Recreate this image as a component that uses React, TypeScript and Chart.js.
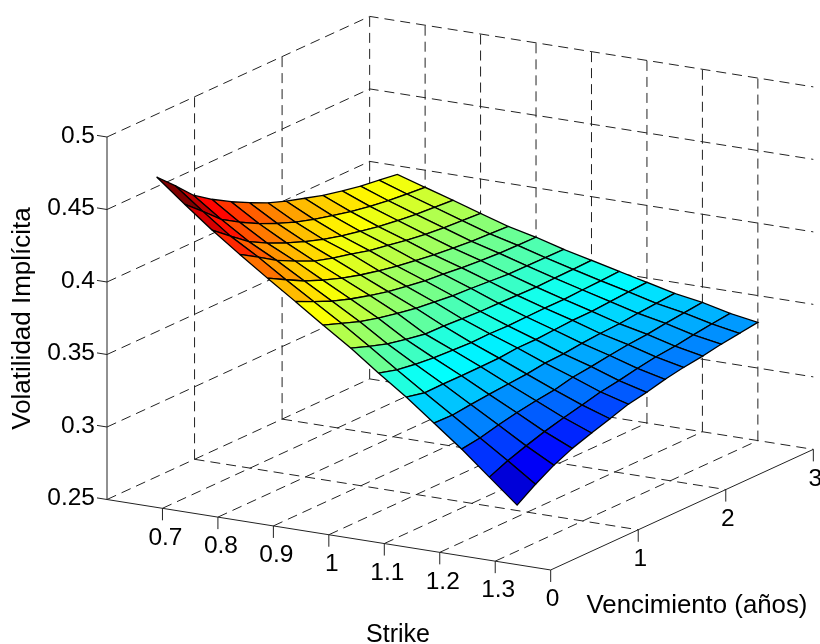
import React, { useEffect, useRef } from "react";
import { Chart, registerables } from "chart.js";

Chart.register(...registerables);

const strikes = [0.65, 0.7, 0.75, 0.8, 0.85, 0.9, 0.95, 1.0, 1.05, 1.1, 1.15, 1.2, 1.25, 1.3];
const maturities = [0.25, 0.46, 0.67, 0.88, 1.1, 1.31, 1.52, 1.73, 1.94, 2.15, 2.37, 2.58, 2.79, 3.0];

const volT00 = [.4685, .4529, .4380, .4242, .4109, .3979, .3846, .3718, .3576, .3441, .3292, .3143, .2980, .2817];
const volT01 = [.4568, .4421, .4280, .4166, .4040, .3920, .3800, .3672, .3540, .3412, .3288, .3161, .3035, .2903];
const volT02 = [.4443, .4307, .4184, .4085, .3973, .3864, .3753, .3630, .3520, .3414, .3303, .3193, .3079, .2976];
const volT03 = [.4357, .4229, .4115, .4022, .3921, .3821, .3719, .3603, .3506, .3413, .3315, .3219, .3119, .3034];
const volT04 = [.4279, .4159, .4056, .3961, .3873, .3784, .3691, .3579, .3498, .3414, .3326, .3241, .3154, .3079];
const volT05 = [.4214, .4102, .4006, .3923, .3837, .3753, .3668, .3576, .3492, .3416, .3336, .3257, .3183, .3119];
const volT06 = [.4155, .4052, .3963, .3893, .3808, .3731, .3653, .3568, .3495, .3427, .3353, .3286, .3215, .3161];
const volT07 = [.4108, .4013, .3929, .3858, .3781, .3711, .3638, .3560, .3491, .3427, .3359, .3301, .3235, .3185];
const volT08 = [.4070, .3981, .3903, .3836, .3762, .3698, .3630, .3558, .3494, .3435, .3373, .3320, .3261, .3216];
const volT09 = [.4031, .3950, .3877, .3812, .3743, .3684, .3620, .3555, .3497, .3443, .3383, .3336, .3282, .3240];
const volT10 = [.4002, .3925, .3858, .3793, .3728, .3672, .3610, .3551, .3496, .3444, .3389, .3346, .3295, .3257];
const volT11 = [.3976, .3906, .3842, .3780, .3717, .3665, .3608, .3554, .3503, .3453, .3403, .3364, .3315, .3281];
const volT12 = [.3959, .3894, .3833, .3771, .3710, .3662, .3607, .3557, .3508, .3462, .3413, .3378, .3332, .3298];
const volT13 = [.3941, .3882, .3823, .3763, .3704, .3659, .3606, .3561, .3515, .3470, .3424, .3392, .3347, .3315];
const surface = [volT00, volT01, volT02, volT03, volT04, volT05, volT06, volT07, volT08, volT09, volT10, volT11, volT12, volT13];

const strikeTicks = [0.7, 0.8, 0.9, 1, 1.1, 1.2, 1.3];
const maturityTicks = [0, 1, 2, 3];
const volTicks = [0.25, 0.3, 0.35, 0.4, 0.45, 0.5];
const strikeLabels = ["0.7", "0.8", "0.9", "1", "1.1", "1.2", "1.3"];
const maturityLabels = ["0", "1", "2", "3"];
const volLabels = ["0.25", "0.3", "0.35", "0.4", "0.45", "0.5"];

const S_MIN = 0.6, S_MAX = 1.4, T_MIN = 0, T_MAX = 3, V_MIN = 0.25, V_MAX = 0.5;
const C_MIN = 0.2817, C_MAX = 0.4685;

// orthographic view of the 3-D box
function project(s: number, t: number, v: number) {
  return {
    x: 107 + (s - S_MIN) * 554.6 + t * 87.55,
    y: 499.5 + (s - S_MIN) * 88.1 - t * 40.2 - (v - V_MIN) * 1450,
  };
}

function jet(f: number) {
  const c = (x: number) => Math.max(0, Math.min(1, x));
  const r = c(Math.min(4 * f - 1.5, -4 * f + 4.5));
  const g = c(Math.min(4 * f - 0.5, -4 * f + 3.5));
  const b = c(Math.min(4 * f + 0.5, -4 * f + 2.5));
  return `rgb(${Math.round(r * 255)},${Math.round(g * 255)},${Math.round(b * 255)})`;
}

function buildDatasets() {
  const sets: any[] = [];
  const guide = (pts: { x: number; y: number }[], solid = false) =>
    sets.push({
      data: pts,
      borderColor: "#222",
      borderWidth: 1,
      borderDash: solid ? [] : [10, 6],
      pointRadius: 0,
      fill: false,
      tension: 0,
      order: 1000,
    });

  for (const v of volTicks) {
    if (v > V_MIN) {
      guide([project(S_MIN, T_MIN, v), project(S_MIN, T_MAX, v), project(S_MAX, T_MAX, v)]);
    }
  }
  guide([project(S_MIN, T_MIN, V_MIN), project(S_MIN, T_MAX, V_MIN)]);
  for (const t of maturityTicks) {
    if (t > T_MIN) {
      guide([project(S_MIN, t, V_MIN), project(S_MAX, t, V_MIN)]);
      guide([project(S_MIN, t, V_MIN), project(S_MIN, t, V_MAX)]);
    }
  }
  for (const s of strikeTicks) {
    guide([project(s, T_MIN, V_MIN), project(s, T_MAX, V_MIN)]);
    guide([project(s, T_MAX, V_MIN), project(s, T_MAX, V_MAX)]);
  }
  guide([project(S_MIN, T_MIN, V_MIN), project(S_MAX, T_MIN, V_MIN), project(S_MAX, T_MAX, V_MIN)], true);
  guide([project(S_MIN, T_MIN, V_MIN), project(S_MIN, T_MIN, V_MAX)], true);

  for (let i = 0; i < maturities.length - 1; i++) {
    for (let j = 0; j < strikes.length - 1; j++) {
      const a = project(strikes[j], maturities[i], surface[i][j]);
      const b = project(strikes[j + 1], maturities[i], surface[i][j + 1]);
      const c = project(strikes[j + 1], maturities[i + 1], surface[i + 1][j + 1]);
      const d = project(strikes[j], maturities[i + 1], surface[i + 1][j]);
      sets.push({
        data: [a, b, c, d, a],
        backgroundColor: jet((surface[i][j] - C_MIN) / (C_MAX - C_MIN)),
        borderColor: "#000",
        borderWidth: 1.3,
        pointRadius: 0,
        fill: "shape",
        tension: 0,
        order: 100 + i - j,
      });
    }
  }
  return sets;
}

const axisText = {
  id: "axisText",
  afterDatasetsDraw(chart: any) {
    const { ctx, scales } = chart;
    const at = (p: { x: number; y: number }) => ({
      x: scales.x.getPixelForValue(p.x),
      y: scales.y.getPixelForValue(p.y),
    });
    const line = (x0: number, y0: number, x1: number, y1: number) => {
      ctx.beginPath();
      ctx.moveTo(x0, y0);
      ctx.lineTo(x1, y1);
      ctx.stroke();
    };
    ctx.save();
    ctx.strokeStyle = "#222";
    ctx.lineWidth = 1;
    ctx.fillStyle = "#000";
    ctx.font = '24.5px "Liberation Sans"';
    ctx.textBaseline = "middle";

    ctx.textAlign = "right";
    volTicks.forEach((v, i) => {
      const p = at(project(S_MIN, T_MIN, v));
      line(p.x, p.y, p.x - 10, p.y - 1.6);
      ctx.fillText(volLabels[i], p.x - 12, p.y - 1);
    });
    ctx.textAlign = "center";
    strikeTicks.forEach((s, i) => {
      const p = at(project(s, T_MIN, V_MIN));
      line(p.x, p.y, p.x, p.y + 12);
      ctx.fillText(strikeLabels[i], p.x + 3, p.y + 29.5);
    });
    maturityTicks.forEach((t, i) => {
      const p = at(project(S_MAX, t, V_MIN));
      line(p.x, p.y, p.x, p.y + 12);
      ctx.fillText(maturityLabels[i], p.x + 2, p.y + 29.5);
    });

    ctx.font = '25px "Liberation Sans"';
    ctx.fillText("Strike", 398, 635);
    ctx.font = '25.8px "Liberation Sans"';
    ctx.fillText("Vencimiento (años)", 697, 606);
    ctx.translate(23, 318.5);
    ctx.rotate(-Math.PI / 2);
    ctx.font = '26px "Liberation Sans"';
    ctx.fillText("Volatilidad Implícita", 0, 0);
    ctx.restore();
  },
};

export default function App() {
  const ref = useRef<HTMLCanvasElement>(null);
  useEffect(() => {
    const chart = new Chart(ref.current!, {
      type: "line",
      data: { datasets: buildDatasets() },
      options: {
        animation: false,
        responsive: false,
        layout: { padding: 0 },
        plugins: { legend: { display: false }, tooltip: { enabled: false } },
        scales: {
          x: { type: "linear", min: 0, max: 820, display: false },
          y: { type: "linear", min: 0, max: 644, reverse: true, display: false },
        },
      },
      plugins: [axisText],
    } as any);
    return () => chart.destroy();
  }, []);
  return (
    <div style={{ position: "absolute", left: 0, top: 0, width: 820, height: 644, background: "#fff" }}>
      <canvas ref={ref} width={820} height={644} style={{ display: "block" }} />
    </div>
  );
}
